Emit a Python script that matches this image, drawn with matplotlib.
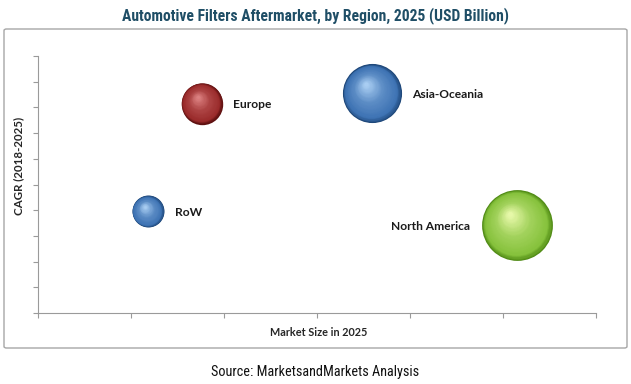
import numpy as np
import matplotlib
matplotlib.use("Agg")
import matplotlib.pyplot as plt
from matplotlib.patches import FancyBboxPatch
from matplotlib.transforms import ScaledTranslation
from matplotlib.colors import to_rgb
import logging
logging.getLogger("matplotlib.font_manager").setLevel(logging.ERROR)

# ---- data ----
regions = ["Europe", "Asia-Oceania", "RoW", "North America"]
market_size = [1.76, 3.59, 1.18, 5.15]      # x (relative, no tick labels)
cagr = [8.15, 8.55, 3.95, 3.42]             # y (relative, no tick labels)
bubble_value = [1.76, 3.59, 1.05, 5.15]     # bubble area ~ market size

title = "Automotive Filters Aftermarket, by Region, 2025 (USD Billion)"
xlabel = "Market Size in 2025"
ylabel = "CAGR (2018-2025)"
source = "Source: MarketsandMarkets Analysis"

# ---- styles ----
palette = {
    "Europe": ("#5e1010", "#9a2b2b", "#dc8080"),
    "Asia-Oceania": ("#1d4677", "#3d72b3", "#a8cdf2"),
    "RoW": ("#1d4677", "#3d72b3", "#a8cdf2"),
    "North America": ("#4f8a14", "#86c23c", "#e6f8a8"),
}
label_side = {"Europe": "right", "Asia-Oceania": "right", "RoW": "right", "North America": "left"}
narrow = ["Roboto Condensed", "Liberation Sans Narrow", "DejaVu Sans Condensed",
          "Open Sans Condensed", "Roboto", "DejaVu Sans"]
label_font = ["Lato", "DejaVu Sans"]

W, H, DPI = 6.31, 3.84, 100
fig = plt.figure(figsize=(W, H), dpi=DPI)
fig.patch.set_facecolor("white")

ax = fig.add_axes([38/631, 1-313/384, (596-38)/631, (313-56)/384])
ax.set_xlim(0, 6)
ax.set_ylim(0, 10)
ax.set_xticks(np.arange(0, 7, 1))
ax.set_yticks(np.arange(0, 11, 1))
ax.set_xticklabels([])
ax.set_yticklabels([])
for s in ["top", "right"]:
    ax.spines[s].set_visible(False)
for s in ["left", "bottom"]:
    ax.spines[s].set_color("#9a9a9a")
    ax.spines[s].set_linewidth(0.8)
ax.tick_params(axis="both", direction="out", length=3.5, width=0.8, color="#9a9a9a")
ax.set_facecolor("none")

k_px = 15.6
N = 40
stops_t = [0.0, 0.12, 0.55, 1.0]
bubble_labels = []
for name, x, y, v in zip(regions, market_size, cagr, bubble_value):
    dark, main, light = [np.array(to_rgb(c)) for c in palette[name]]
    r_px = k_px * np.sqrt(v)
    r_pt = r_px * 72 / DPI
    cols = [dark, main, main * 0.7 + light * 0.3, light]
    for i in range(N):
        t = i / (N - 1)
        rad = r_pt * (1 - 0.93 * t)
        dx = -0.2 * r_pt * t
        dy = 0.30 * r_pt * t
        c = np.array([np.interp(t, stops_t, [cc[j] for cc in cols]) for j in range(3)])
        tr = ax.transData + ScaledTranslation(dx / 72, dy / 72, fig.dpi_scale_trans)
        ax.scatter([x], [y], s=(2 * rad) ** 2, color=c, linewidths=0,
                   transform=tr, zorder=3 + i * 0.01, clip_on=False)
    off_pt = (r_pt + 8) if label_side[name] == "right" else -(r_pt + 8)
    ha = "left" if label_side[name] == "right" else "right"
    bubble_labels.append(ax.annotate(name, (x, y), xytext=(off_pt, -1), textcoords="offset points",
                ha=ha, va="center", fontsize=8, fontweight="bold",
                family=label_font, color="#1a1a1a", zorder=10))

t_xl = fig.text(318.5/631, 1-333/384, xlabel, ha="center", va="center", fontsize=7.5,
                fontweight="bold", family=label_font, color="#262626")
t_yl = fig.text(19/631, 1-166/384, ylabel, ha="center", va="center", rotation=90, fontsize=7.5,
                fontweight="bold", family=label_font, color="#262626")

box = FancyBboxPatch((4/631, 1-348/384), (627-4)/631, (348-29)/384,
                     boxstyle="round,pad=0,rounding_size=0.004",
                     transform=fig.transFigure, facecolor="none",
                     edgecolor="#a6a6a6", linewidth=1.0, zorder=0)
fig.patches.append(box)

t_title = fig.text(315/631, 1-16/384, title, ha="center", va="center", fontsize=11.5,
                   fontweight="bold", family=narrow, color="#1f4e66")
t_src = fig.text(315/631, 1-372/384, source, ha="center", va="center", fontsize=9,
                 family=narrow, color="#111111")

# fit text sizes to the reference widths
renderer = fig.canvas.get_renderer()
for txt, target in [(t_title, 388), (t_src, 210), (t_xl, 97)]:
    w = txt.get_window_extent(renderer).width
    txt.set_fontsize(txt.get_fontsize() * target / w)
h = t_yl.get_window_extent(renderer).height
t_yl.set_fontsize(t_yl.get_fontsize() * 98 / h)
na = bubble_labels[regions.index("North America")]
w = na.get_window_extent(renderer).width
fs = na.get_fontsize() * 79 / w
for b in bubble_labels:
    b.set_fontsize(fs)

fig.savefig("out.png", dpi=DPI)
